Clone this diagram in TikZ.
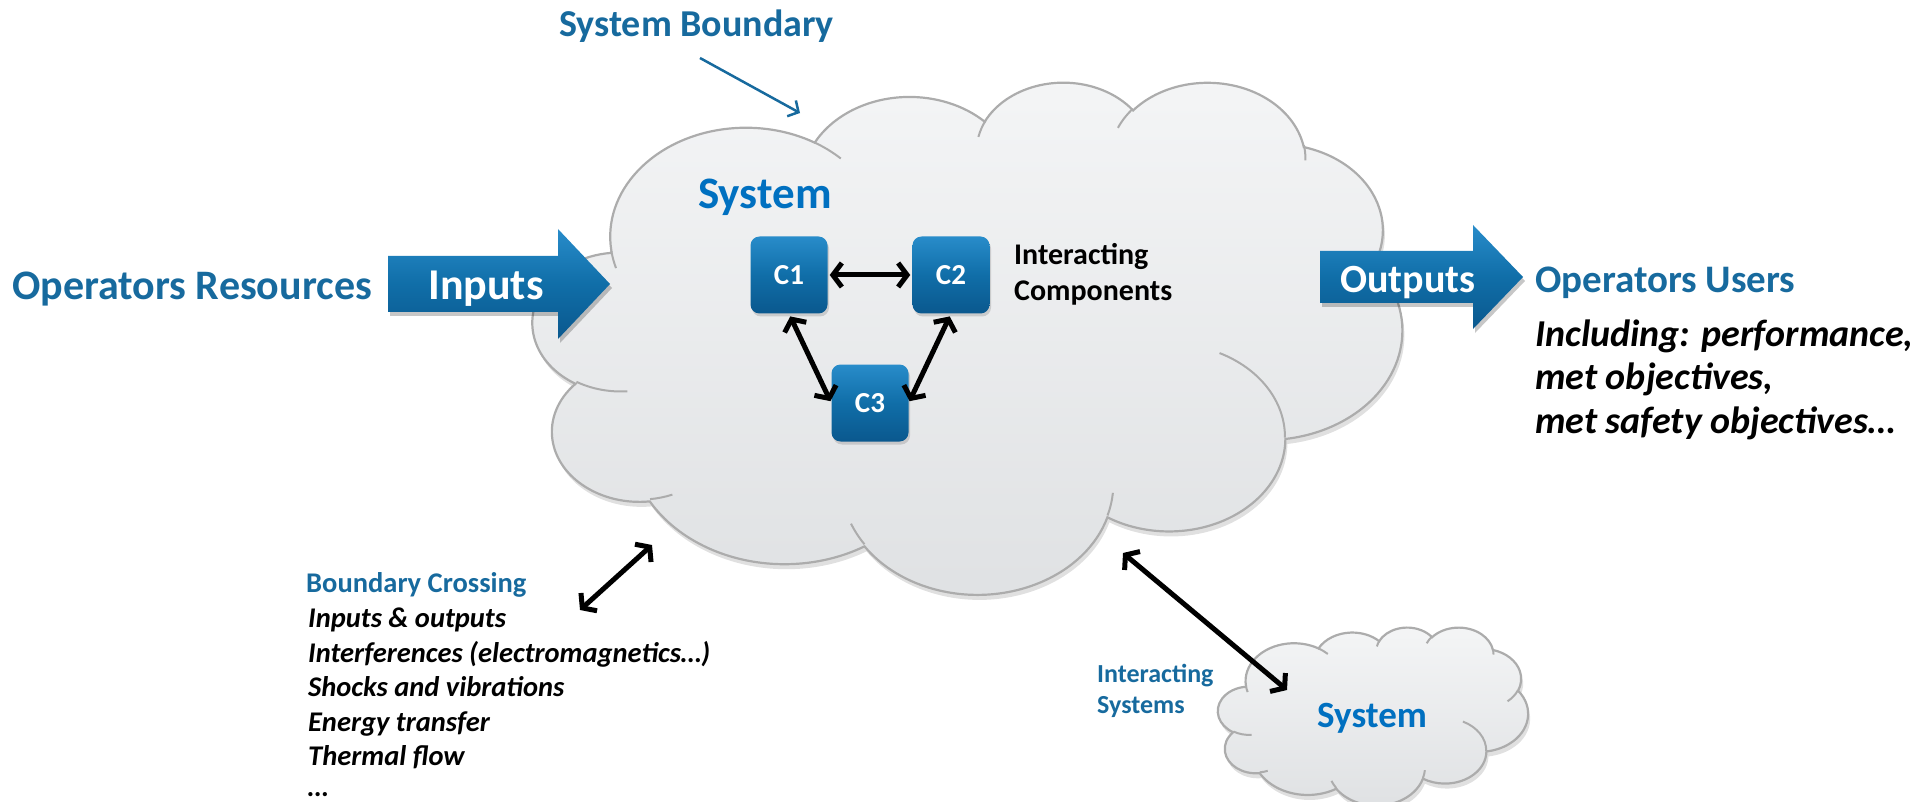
\documentclass[tikz,border=0pt]{standalone}
\usepackage{fontspec}
\setmainfont{Carlito}
\usetikzlibrary{arrows.meta,shadows}

\definecolor{labelblue}{RGB}{23,106,158}
\definecolor{sysblue}{RGB}{0,112,192}
\definecolor{boxtop}{RGB}{40,140,202}
\definecolor{boxmid}{RGB}{16,110,168}
\definecolor{boxbot}{RGB}{10,88,142}
\definecolor{cloudtop}{RGB}{244,245,246}
\definecolor{cloudbot}{RGB}{223,225,227}
\definecolor{cloudedge}{RGB}{172,172,172}

\newcommand\setfs[1]{\fontsize{#1pt}{#1pt}\selectfont}

% Elliptic arc given by radii, visual start angle and visual sweep
% (angles measured along the ray from the centre, y pointing down).
\newcommand\cloudarc[4]{%
  \pgfextra{%
    \pgfmathsetmacro\cldA{atan2((#1)*sin(#3),(#2)*cos(#3))}%
    \pgfmathsetmacro\cldB{atan2((#1)*sin((#3)+(#4)),(#2)*cos((#3)+(#4)))}%
    \pgfmathsetmacro\cldB{ifthenelse(\cldB<\cldA,\cldB+360,\cldB)}%
    \xdef\cldS{\cldA}\xdef\cldE{\cldB}}%
  arc[start angle=\cldS, end angle=\cldE, x radius=#1, y radius=#2]}

% Cloud outline on a 43.2 x 43.2 frame
\newcommand\cloudpath{(3.900,14.370)
  \cloudarc{6.753}{9.190}{-190.487}{123.781}
  \cloudarc{5.333}{7.267}{-144.102}{89.945}
  \cloudarc{4.365}{5.945}{-145.808}{99.723}
  \cloudarc{4.857}{6.595}{-130.986}{117.242}
  \cloudarc{5.333}{7.273}{-78.709}{109.027}
  \cloudarc{6.775}{9.220}{-46.267}{130.269}
  \cloudarc{5.785}{7.867}{0.625}{114.033}
  \cloudarc{6.752}{9.215}{22.452}{115.173}
  \cloudarc{7.720}{10.543}{66.243}{75.711}
  \cloudarc{4.360}{5.918}{-274.942}{146.736}
  \cloudarc{4.345}{5.945}{-246.829}{152.519}
  -- cycle}

% Short inner creases where the puffs meet
\newcommand\cloudcreases{%
  (4.693,26.177) \cloudarc{4.345}{5.945}{86.742}{26.430}
  (6.928,34.899) \cloudarc{4.360}{5.918}{73.610}{11.447}
  (16.478,39.090) \cloudarc{6.752}{9.215}{137.624}{14.081}
  (28.827,34.751) \cloudarc{6.752}{9.215}{6.453}{15.998}
  (34.129,22.954) \cloudarc{5.785}{7.867}{-70.292}{70.917}
  (41.798,15.354) \cloudarc{5.333}{7.273}{30.318}{27.752}
  (38.324,5.426) \cloudarc{4.857}{6.595}{-13.744}{14.859}
  (29.078,3.952) \cloudarc{4.857}{6.595}{-149.181}{18.195}
  (22.141,4.720) \cloudarc{4.365}{5.945}{-163.494}{17.686}
  (14.000,5.192) \cloudarc{6.753}{9.190}{-66.707}{12.319}
  (4.127,15.789) \cloudarc{6.753}{9.190}{157.654}{11.858}}

\begin{document}
\begin{tikzpicture}[x=1pt, y=-1pt,
  heading/.style={inner sep=0pt, anchor=base west, text=labelblue, font=\setfs{#1}\bfseries},
  sysname/.style={inner sep=0pt, anchor=base west, text=sysblue, font=\setfs{#1}\bfseries},
  note/.style={inner sep=0pt, anchor=base west, text=black, font=\setfs{#1}\bfseries\itshape},
  darklabel/.style={inner sep=0pt, anchor=base west, text=black, font=\setfs{#1}\bfseries},
  arrowtext/.style={inner sep=0pt, anchor=base, text=white, font=\setfs{#1}\bfseries},
  blockarrow/.style={top color=boxtop, bottom color=boxbot, middle color=boxmid},
  blockshadow/.style={fill=black, opacity=.22, xshift=2pt, yshift=-4pt},
  cbox/.style={rounded corners=9pt, minimum width=77pt, minimum height=77pt,
    top color=boxtop, bottom color=boxbot, middle color=boxmid, text=white,
    font=\setfs{29}\bfseries,
    drop shadow={opacity=.3, shadow xshift=1.5pt, shadow yshift=-3pt}},
  dblarrow/.style={line width=5pt, >={Straight Barb[length=9pt,width=24pt]}, <->},
  cloudfill/.style={top color=cloudtop, bottom color=cloudbot, draw=cloudedge, line width=2.2pt},
  cloudshadow/.style={fill=black, opacity=.12, xshift=2pt, yshift=-5pt},
  crease/.style={draw=cloudedge, line width=2pt}]

\useasboundingbox (0,0) rectangle (1930,802);

% main cloud: the system
\begin{scope}[shift={(533,81)}, x=20.116pt, y=-11.852pt]
  \fill[cloudshadow] \cloudpath;
  \shade[cloudfill] \cloudpath;
  \draw[crease] \cloudcreases;
\end{scope}

% small cloud: an interacting system
\begin{scope}[shift={(1218,627)}, x=7.176pt, y=-4.120pt]
  \fill[cloudshadow] \cloudpath;
  \shade[cloudfill] \cloudpath;
  \draw[crease] \cloudcreases;
\end{scope}

% system boundary pointer
\node[heading=38] (sbtext) at (559,37) {System Boundary};
\coordinate (sbA) at (700,58);
\coordinate (sbB) at (800,113);
\draw[labelblue, line width=2.5pt, -{Straight Barb[length=8pt,width=18pt]}] (sbA) -- (sbB);

\node[sysname=45] (systitle) at (698,209) {System};

% inputs
\node[heading=42] (opres) at (12,300) {Operators Resources};
\fill[blockshadow] (388,256) -- (558,256) -- (558,229) -- (610,284) -- (558,339) -- (558,312) -- (388,312) -- cycle;
\shade[blockarrow] (388,256) -- (558,256) -- (558,229) -- (610,284) -- (558,339) -- (558,312) -- (388,312) -- cycle;
\node[arrowtext=44] (inputs) at (486,300) {Inputs};

% outputs
\fill[blockshadow] (1320,251) -- (1473,251) -- (1473,225) -- (1523,277) -- (1473,329) -- (1473,303) -- (1320,303) -- cycle;
\shade[blockarrow] (1320,251) -- (1473,251) -- (1473,225) -- (1523,277) -- (1473,329) -- (1473,303) -- (1320,303) -- cycle;
\node[arrowtext=40] (outputs) at (1408,293) {Outputs};

\node[heading=39] (opusers) at (1535,293) {Operators Users};
\node[note=38] (inc1) at (1535,346) {Including: performance,};
\node[note=38] (inc2) at (1535,389) {met objectives,};
\node[note=38] (inc3) at (1535,433) {met safety objectives…};

% interacting components
\node[cbox] (C1) at (789,275) {C1};
\node[cbox] (C2) at (951,275) {C2};
\node[cbox] (C3) at (870,403) {C3};
\draw[dblarrow, shorten <=2pt, shorten >=2pt] (C1.east) -- (C2.west);
\draw[dblarrow, shorten <=3pt, shorten >=2pt] (C1.south) -- (C3.west);
\draw[dblarrow, shorten <=3pt, shorten >=2pt] (C2.south) -- (C3.east);
\node[darklabel=30] (ic1) at (1014,265) {Interacting};
\node[darklabel=30] (ic2) at (1014,301) {Components};

% boundary crossing
\coordinate (bcA) at (580,610);
\coordinate (bcB) at (652,545);
\draw[dblarrow] (bcA) -- (bcB);
\node[heading=28.5] (bc0) at (306,592) {Boundary Crossing};
\node[note=28.5] (bc1) at (308,627) {Inputs \& outputs};
\node[note=28.5] (bc2) at (308,662) {Interferences (electromagnetics…)};
\node[note=28.5] (bc3) at (308,696) {Shocks and vibrations};
\node[note=28.5] (bc4) at (308,731) {Energy transfer};
\node[note=28.5] (bc5) at (308,765) {Thermal flow};
\node[note=28.5] (bc6) at (308,796) {…};

% interacting systems
\coordinate (isA) at (1123,553);
\coordinate (isB) at (1287,690);
\draw[dblarrow] (isA) -- (isB);
\node[heading=26] (is1) at (1097,682) {Interacting};
\node[heading=26] (is2) at (1097,713) {Systems};
\node[sysname=37] (sys2) at (1317,727) {System};

\end{tikzpicture}
\end{document}
